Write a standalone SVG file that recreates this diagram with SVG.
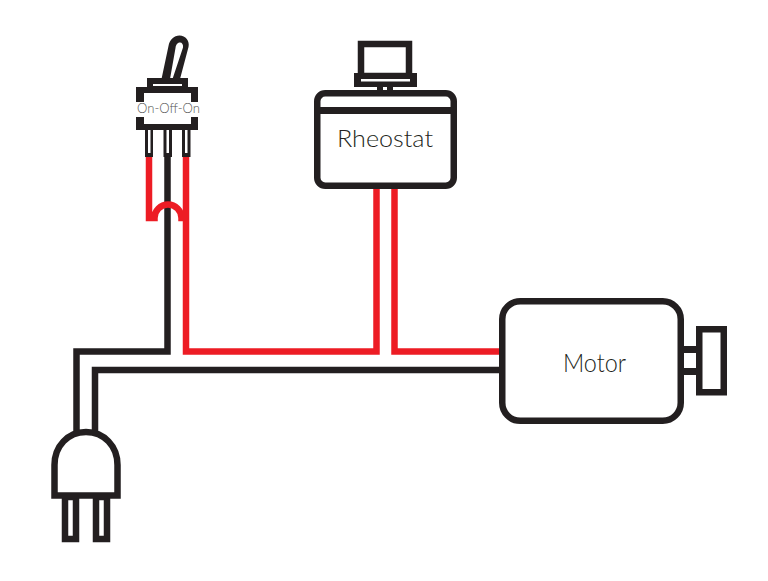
<svg xmlns="http://www.w3.org/2000/svg" width="768" height="581" viewBox="0 0 768 581">
<style>
.k{fill:#231f20}
.w{fill:#fff}
.o{fill:#fff;stroke:#231f20;stroke-width:6.5}
.wb{fill:none;stroke:#231f20;stroke-width:6.5;stroke-linejoin:miter}
.wr{fill:none;stroke:#ed1c24;stroke-width:6.5;stroke-linejoin:miter}
.t{font-family:"Lato","Liberation Sans",sans-serif;font-weight:300;fill:#231f20}
</style>
<rect width="768" height="581" fill="#fff"/>
<g id="connectors">
<path class="wb" d="M167.5 155V351.5H76.5V435"/>
<path class="wb" d="M500 370H95V435"/>
<path class="wr" d="M149 156V218H154.5A13.5 13.5 0 0 1 181.5 218H186"/>
<path class="wr" d="M186 156V351.5H376.5V186"/>
<path class="wr" d="M394.5 186V351.5H500"/>
</g>
<g id="switch">
<path class="k" d="M161.500 79L168.500 46C169.500 40 174 35.500 179.500 35.500C185.500 35.500 190 41 188.500 47L180 79Z"/>
<path class="w" d="M170 79L175.500 48C176 44 178 42.500 180 42.500C182 42.500 183.500 44.500 183 47.500L172.500 79Z"/>
<rect class="k" x="147" y="78" width="41" height="10"/>
<rect class="w" x="153" y="84" width="29" height="2"/>
<path class="k" d="M136 102V87H198V102H191V93H144V102Z"/>
<path class="k" d="M136 117H144V124H191V117H198V130H136Z"/>
<path class="k" d="M145 130H153V157H145ZM163.500 130H172V157H163.500ZM182 130H190.500V157H182Z"/>
<path class="w" d="M148 130H150.500V153H148ZM166.500 130H169V153H166.500ZM185 130H187.500V153H185Z"/>
<text class="t" x="168.500" y="113" font-size="13" text-anchor="middle" style="fill:#555" textLength="63" lengthAdjust="spacingAndGlyphs">On-Off-On</text>
</g>
<g id="rheostat">
<rect class="o" x="361" y="44" width="48" height="32"/>
<rect class="k" x="354" y="73" width="63" height="14"/>
<rect class="w" x="361" y="79" width="49" height="2.500"/>
<rect class="k" x="377" y="87" width="16" height="6"/>
<rect class="w" x="383" y="87" width="4" height="3.500"/>
<rect class="o" x="317.250" y="93.250" width="136.500" height="92.500" rx="8"/>
<rect class="k" x="317" y="107" width="137" height="7"/>
<text class="t" x="385" y="147" font-size="24" text-anchor="middle" textLength="96" lengthAdjust="spacingAndGlyphs">Rheostat</text>
</g>
<g id="motor">
<rect class="k" x="684" y="346" width="14" height="7"/>
<rect class="k" x="684" y="368" width="14" height="7"/>
<rect class="o" x="699.250" y="329.250" width="24.500" height="63"/>
<rect class="o" x="502.250" y="301.250" width="178.500" height="119.500" rx="18"/>
<text class="t" x="594.500" y="372" font-size="25" text-anchor="middle" textLength="63" lengthAdjust="spacingAndGlyphs">Motor</text>
</g>
<g id="plug">
<rect class="o" x="65" y="497" width="11" height="42"/>
<rect class="o" x="96" y="497" width="11" height="42"/>
<path class="o" d="M54.500 495.500V465C54.500 446 68 432 86 432C104 432 117.500 446 117.500 465V495.500Z"/>
</g>
</svg>
